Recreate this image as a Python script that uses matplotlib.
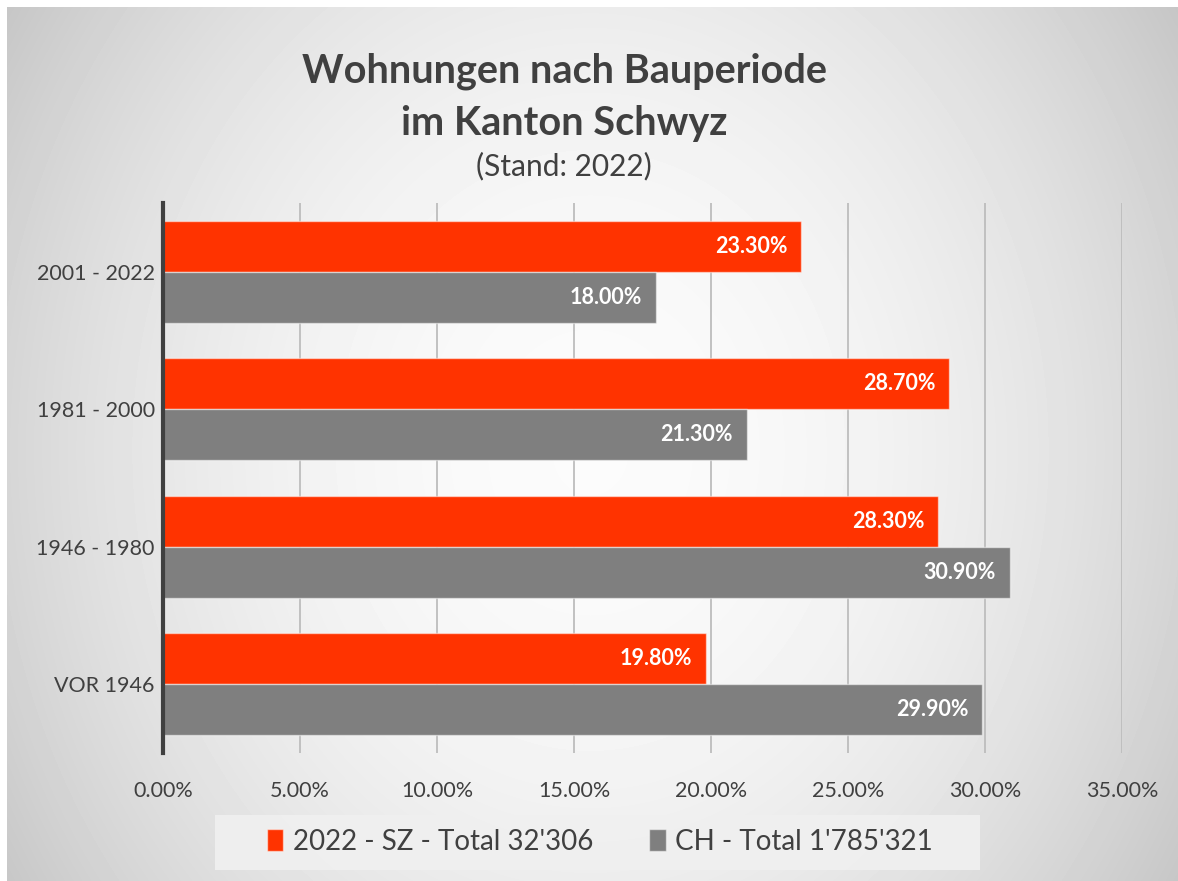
import matplotlib.pyplot as plt
import numpy as np
from matplotlib.patches import Rectangle
from matplotlib.ticker import FuncFormatter

plt.rcParams['font.family'] = ['Lato', 'DejaVu Sans']

# Daten
perioden = ['2001 - 2022', '1981 - 2000', '1946 - 1980', 'VOR 1946']
sz_2022 = [23.3, 28.7, 28.3, 19.8]
ch_total = [18.0, 21.3, 30.9, 29.9]
label_sz = "2022 - SZ - Total 32'306"
label_ch = "CH - Total 1'785'321"

rot = '#ff3300'
grau = '#7f7f7f'
text_farbe = '#404040'

W, H = 1178, 881
fig = plt.figure(figsize=(W / 100, H / 100), dpi=100)
fig.patch.set_facecolor('white')

# Hintergrund mit radialem Verlauf
bg = fig.add_axes([7 / W, 0, 1 - 7 / W, 1 - 7 / H])
yy, xx = np.mgrid[7:H, 7:W]
dx = (xx - 590) / 580
dy = (yy - 450) / 440
werte = np.clip(0.985 - 0.145 * dx ** 2 - 0.06 * dy ** 2, 0, 1)
bg.imshow(werte, cmap='gray', vmin=0, vmax=1, aspect='auto', interpolation='bilinear')
bg.axis('off')

ax = fig.add_axes([163 / W, 128 / H, (1122 - 163) / W, (753 - 203) / H])
ax.set_facecolor('none')

y = np.arange(len(perioden))
h = 0.37
b1 = ax.barh(y - h / 2, sz_2022, height=h, color=rot, edgecolor=(1, 1, 1, 0.5), linewidth=1, label=label_sz, zorder=3)
b2 = ax.barh(y + h / 2, ch_total, height=h, color=grau, edgecolor=(1, 1, 1, 0.5), linewidth=1, label=label_ch, zorder=3)

for bars, werte_s in [(b1, sz_2022), (b2, ch_total)]:
    for bar, v in zip(bars, werte_s):
        ax.annotate('{:.2f}%'.format(v), xy=(v, bar.get_y() + bar.get_height() / 2),
                    xytext=(-10, 0), textcoords='offset points', ha='right', va='center',
                    color='white', fontsize=15.5, fontweight='bold', zorder=4)

ax.set_xlim(0, 35)
ax.set_ylim(len(perioden) - 0.5, -0.5)
ax.set_xticks(np.arange(0, 36, 5))
ax.xaxis.set_major_formatter(FuncFormatter(lambda v, p: '{:.2f}%'.format(v)))
ax.set_yticks(y)
ax.set_yticklabels(perioden)
ax.tick_params(axis='both', length=0, labelsize=15.5, colors=text_farbe)
ax.tick_params(axis='x', pad=20)
ax.tick_params(axis='y', pad=6)
ax.grid(axis='x', color='#bdbdbd', linewidth=1.3, zorder=0)
ax.set_axisbelow(True)
for s in ['top', 'right', 'bottom']:
    ax.spines[s].set_visible(False)
ax.spines['left'].set_color(text_farbe)
ax.spines['left'].set_linewidth(3)
ax.spines['left'].set_zorder(5)

tx = 564 / W
fig.text(tx, 1 - 71 / H, 'Wohnungen nach Bauperiode', ha='center', va='center',
         fontsize=28.5, fontweight='bold', color=text_farbe)
fig.text(tx, 1 - 124 / H, 'im Kanton Schwyz', ha='center', va='center',
         fontsize=28.5, fontweight='bold', color=text_farbe)
fig.text(tx, 1 - 166 / H, '(Stand: 2022)', ha='center', va='center',
         fontsize=21.5, color=text_farbe)

# Legendenkasten
fig.patches.append(Rectangle((215 / W, 1 - 870 / H), (980 - 215) / W, 55 / H,
                             transform=fig.transFigure, facecolor='#f0f0f0',
                             edgecolor='none', alpha=0.9, zorder=1))
leg = fig.legend(handles=[b1, b2], loc='center', bbox_to_anchor=(600 / W, 1 - 842 / H),
                 ncol=2, fontsize=20, frameon=False, handlelength=0.6,
                 handleheight=0.85, handletextpad=0.35, columnspacing=2.0,
                 labelcolor=text_farbe)

fig.savefig('out.png', dpi=100)
